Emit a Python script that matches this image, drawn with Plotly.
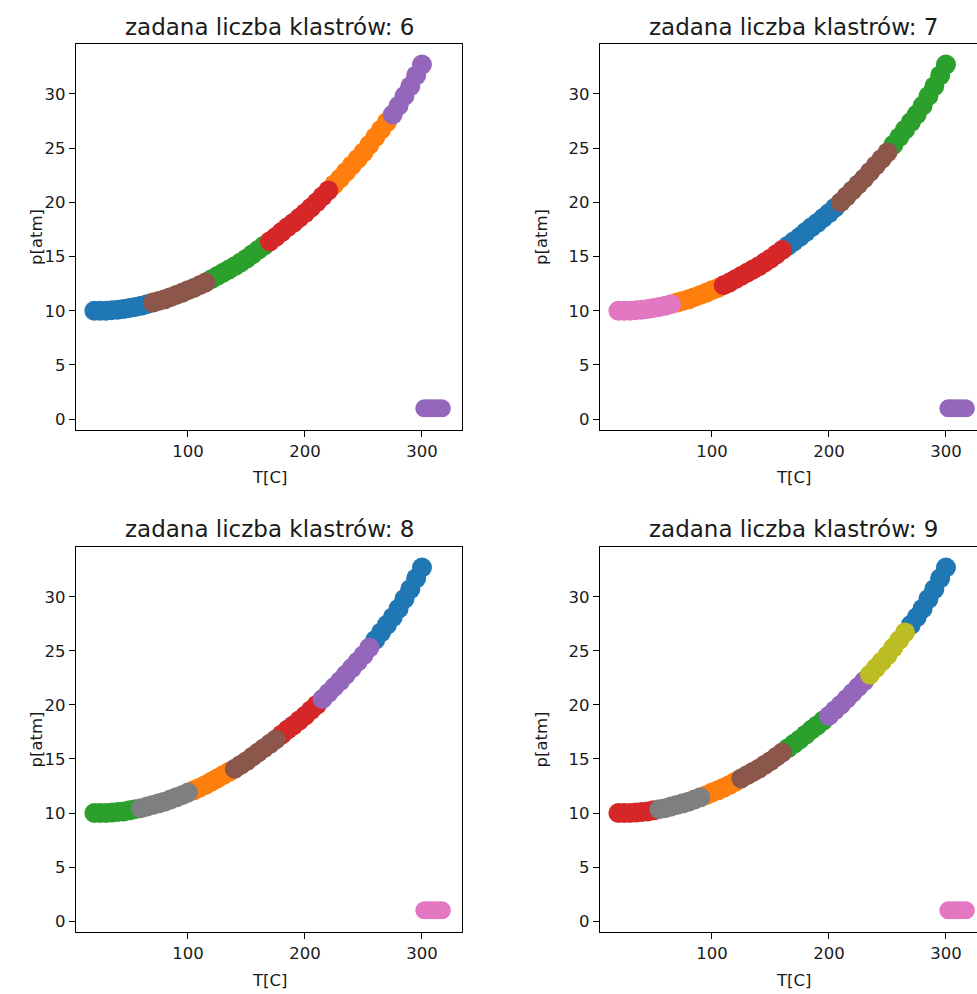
import plotly.graph_objects as go

# ---------------- data ----------------
T_curve = [20, 25, 30, 35, 40, 45, 50, 55, 60, 65, 70, 75, 80, 85, 90, 95,
           100, 105, 110, 115, 120, 125, 130, 135, 140, 145, 150, 155, 160,
           165, 170, 175, 180, 185, 190, 195, 200, 205, 210, 215, 220, 225,
           230, 235, 240, 245, 250, 255, 260, 265, 270, 275, 280, 285, 290,
           295, 300]
p_curve = [10.0, 10.0, 10.0, 10.05, 10.1, 10.15, 10.25, 10.35, 10.45, 10.6,
           10.75, 10.9, 11.05, 11.25, 11.45, 11.65, 11.9, 12.1, 12.35, 12.6,
           12.9, 13.2, 13.5, 13.8, 14.1, 14.45, 14.8, 15.2, 15.6, 16.0, 16.4,
           16.8, 17.25, 17.7, 18.1, 18.55, 19.0, 19.5, 20.0, 20.55, 21.1,
           21.65, 22.2, 22.8, 23.4, 24.0, 24.6, 25.3, 26.0, 26.7, 27.4, 28.1,
           28.9, 29.8, 30.7, 31.7, 32.7]

T_iso = [302, 305, 308, 311, 314, 317]
p_iso = [1.0, 1.0, 1.0, 1.0, 1.0, 1.0]

cluster_counts = [6, 7, 8, 9]

# segments along the curve: (upper T bound, colour index in tab10)
segments_k6 = [(67, 0), (118, 5), (168, 2), (221, 3), (271, 1), (301, 4)]
segments_k7 = [(68, 6), (110, 1), (161, 3), (206, 0), (254, 5), (301, 2)]
segments_k8 = [(60, 2), (103, 7), (138, 1), (180, 5), (215, 3), (259, 4), (301, 0)]
segments_k9 = [(53, 3), (93, 7), (124, 1), (164, 5), (198, 2), (232, 4), (266, 8), (301, 0)]
iso_colour = [4, 4, 6, 6]

TAB10 = ["#1f77b4", "#ff7f0e", "#2ca02c", "#d62728", "#9467bd",
         "#8c564b", "#e377c2", "#7f7f7f", "#bcbd22", "#17becf"]

all_segments = [segments_k6, segments_k7, segments_k8, segments_k9]

# ---------------- layout geometry (pixels) ----------------
W, H = 977, 994
col_x = [(76, 462), (600, 977)]
row_y = [(44, 430), (547, 932)]
x_ranges = [[4.3, 334.2], [4.3, 326.5]]
y_range = [-1.0, 34.6]
title_cx = [269, 793]
title_cy = [27, 529]
xlabel_cy = [478, 980]
ylabel_cx = [36, 541]

FONT = "DejaVu Sans"
TXT = "#1a1a1a"
CURVE_SIZE = 20
ISO_SIZE = 18

fig = go.Figure()
annotations = []
layout_axes = {}

for i, k in enumerate(cluster_counts):
    r, c = divmod(i, 2)
    n = i + 1
    xa = "x" if n == 1 else f"x{n}"
    ya = "y" if n == 1 else f"y{n}"
    segs = all_segments[i]

    groups = {}
    for t, p in zip(T_curve, p_curve):
        for bound, ci in segs:
            if t < bound:
                g = groups.setdefault(ci, ([], [], []))
                g[0].append(t)
                g[1].append(p)
                g[2].append(CURVE_SIZE)
                break
    g = groups.setdefault(iso_colour[i], ([], [], []))
    g[0].extend(T_iso)
    g[1].extend(p_iso)
    g[2].extend([ISO_SIZE] * len(T_iso))

    for ci in sorted(groups):
        xs, ys, ss = groups[ci]
        fig.add_trace(go.Scatter(
            x=xs, y=ys, mode="markers", xaxis=xa, yaxis=ya,
            marker=dict(size=ss, color=TAB10[ci], opacity=1,
                        line=dict(width=0)),
            showlegend=False, hoverinfo="skip"))

    x0, x1 = col_x[c]
    y0, y1 = row_y[r]
    xkey = "xaxis" if n == 1 else f"xaxis{n}"
    ykey = "yaxis" if n == 1 else f"yaxis{n}"
    layout_axes[xkey] = dict(
        domain=[x0 / W, x1 / W], range=x_ranges[c], anchor=ya,
        showline=True, linecolor="black", linewidth=1.3, mirror=True,
        showgrid=False, zeroline=False, ticks="outside", ticklen=6,
        tickwidth=1.3, tickcolor="black", tickvals=[100, 200, 300],
        tickfont=dict(family=FONT, size=16.5, color=TXT))
    layout_axes[ykey] = dict(
        domain=[1 - y1 / H, 1 - y0 / H], range=y_range, anchor=xa,
        showline=True, linecolor="black", linewidth=1.3,
        mirror=(c == 0), showgrid=False, zeroline=False,
        ticks="outside", ticklen=6, tickwidth=1.3, tickcolor="black",
        tickvals=[0, 5, 10, 15, 20, 25, 30],
        tickfont=dict(family=FONT, size=16.5, color=TXT))

    annotations.append(dict(
        text=f"zadana liczba klastrów: {k}", x=title_cx[c] / W,
        y=1 - title_cy[r] / H, xref="paper", yref="paper",
        xanchor="center", yanchor="middle", showarrow=False,
        font=dict(family=FONT, size=23, color=TXT)))
    annotations.append(dict(
        text="T[C]", x=title_cx[c] / W, y=1 - xlabel_cy[r] / H,
        xref="paper", yref="paper", xanchor="center", yanchor="middle",
        showarrow=False, font=dict(family=FONT, size=16.5, color=TXT)))
    annotations.append(dict(
        text="p[atm]", x=ylabel_cx[c] / W, y=1 - (y0 + y1) / 2 / H,
        xref="paper", yref="paper", xanchor="center", yanchor="middle",
        textangle=-90, showarrow=False,
        font=dict(family=FONT, size=16.5, color=TXT)))

fig.update_layout(
    width=W, height=H, margin=dict(l=0, r=0, t=0, b=0),
    paper_bgcolor="white", plot_bgcolor="white",
    annotations=annotations, **layout_axes)

fig.write_html("out.html")
